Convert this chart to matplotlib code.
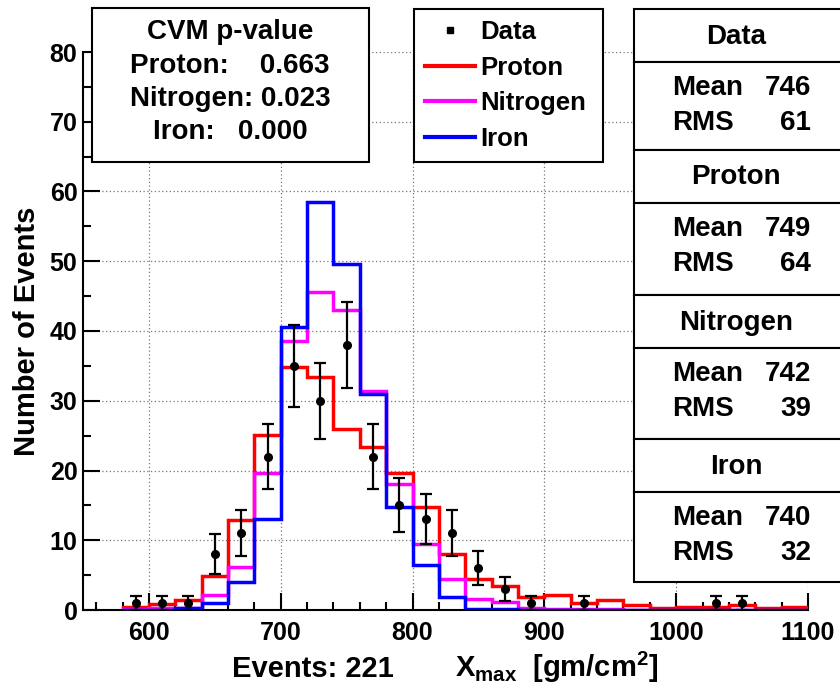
import numpy as np
import matplotlib
matplotlib.use("Agg")
import matplotlib.pyplot as plt
from matplotlib.patches import Rectangle
from matplotlib.lines import Line2D
from matplotlib.ticker import MultipleLocator

# ---------------- data ----------------
bin_edges = np.arange(580, 1101, 20)
data_counts = [1, 1, 1, 8, 11, 22, 35, 30, 38, 22, 15, 13, 11, 6, 3, 1, 0, 1, 0, 0, 0, 0, 1, 1, 0, 0]
proton = [0.5, 0.8, 1.5, 4.9, 12.9, 25.1, 34.8, 33.4, 26.0, 23.3, 19.6, 14.8, 8.1, 4.4, 3.4, 1.9,
          2.1, 1.0, 1.4, 0.7, 0.25, 0.5, 0.5, 0.7, 0.25, 0.4]
nitrogen = [0.1, 0.3, 0.3, 2.1, 6.1, 19.6, 38.6, 45.6, 43.0, 31.4, 18.0, 9.4, 4.4, 1.6, 1.2, 0.3,
            0.2, 0.1, 0.1, 0.05, 0.05, 0.05, 0.05, 0.05, 0.05, 0.05]
iron = [0.0, 0.05, 0.3, 1.0, 4.0, 13.0, 40.6, 58.5, 49.6, 30.9, 14.8, 6.5, 1.8, 0.2, 0.1, 0.0,
        0.0, 0.0, 0.0, 0.0, 0.0, 0.0, 0.0, 0.0, 0.0, 0.0]
series_names = ["Proton", "Nitrogen", "Iron"]
series_colors = ["#ff0000", "#ff00ff", "#0000ff"]
cvm_title = "CVM p-value"
cvm_lines = ["Proton:    0.663", "Nitrogen: 0.023", "Iron:   0.000"]
stat_names = ["Data", "Proton", "Nitrogen", "Iron"]
stat_means = [746, 749, 742, 740]
stat_rms = [61, 64, 39, 32]
n_events = 221

# ---------------- style ----------------
plt.rcParams["font.family"] = ["Liberation Sans", "DejaVu Sans"]
plt.rcParams["font.weight"] = "bold"
plt.rcParams["mathtext.fontset"] = "custom"
plt.rcParams["mathtext.rm"] = "Liberation Sans:bold"
plt.rcParams["mathtext.bf"] = "Liberation Sans:bold"
plt.rcParams["mathtext.it"] = "Liberation Sans:bold"
plt.rcParams["mathtext.default"] = "bf"
FS_TICK = 18
FS_BOX = 20
FS_LEG = 18.5
FS_TITLE = 21

W, H = 840, 693
def fx(x):
    return x / W
def fy(y):
    return 1 - y / H

fig = plt.figure(figsize=(W / 100, H / 100), dpi=100)
ax = fig.add_axes([fx(83), fy(610), fx(808) - fx(83), fy(52) - fy(610)])

ax.set_xlim(550, 1100)
ax.set_ylim(0, 80)
ax.xaxis.set_major_locator(MultipleLocator(100))
ax.xaxis.set_minor_locator(MultipleLocator(20))
ax.yaxis.set_major_locator(MultipleLocator(10))
ax.yaxis.set_minor_locator(MultipleLocator(5))
ax.tick_params(which="both", direction="in", width=1.5, top=False, right=False,
               labelsize=FS_TICK)
ax.tick_params(which="major", length=12)
ax.tick_params(which="minor", length=6)
ax.tick_params(axis="y", pad=4)
ax.tick_params(axis="x", pad=8)
for lab in ax.get_xticklabels() + ax.get_yticklabels():
    lab.set_fontweight("bold")
for s in ["top", "right"]:
    ax.spines[s].set_visible(False)
for s in ["left", "bottom"]:
    ax.spines[s].set_linewidth(1.5)
ax.grid(which="major", linestyle=(0, (1, 2)), color="#777777", linewidth=0.9)
ax.set_axisbelow(True)

# histograms
for vals, c in zip([proton, nitrogen, iron], series_colors):
    ax.stairs(vals, bin_edges, baseline=0, color=c, linewidth=2.5, fill=False)

centers = 0.5 * (bin_edges[:-1] + bin_edges[1:])
dc = np.array(data_counts, dtype=float)
m = dc > 0
ax.errorbar(centers[m], dc[m], yerr=np.sqrt(dc[m]), fmt="o", color="black",
            ms=5.5, elinewidth=1.6, capsize=4.5, capthick=1.6, zorder=5)

# axis labels
ax.set_ylabel("Number of Events", fontsize=FS_TITLE, fontweight="bold")
ax.yaxis.set_label_coords((41 - 83) / 725, 0.5)
ax.set_xlabel(r"$X_{max}$  [gm/cm$^{2}$]", fontsize=FS_TITLE, fontweight="bold",
              ha="left", va="baseline")
ax.xaxis.set_label_coords((455 - 83) / 725, (610 - 677) / 558)
fig.text(fx(232), fy(677), f"Events: {n_events}", fontsize=FS_TITLE, fontweight="bold",
         ha="left", va="baseline")

# legend
handles = [Line2D([], [], marker="s", ls="none", color="black", ms=4)]
handles += [Line2D([], [], color=c, lw=3) for c in series_colors]
leg = ax.legend(handles, ["Data"] + series_names, loc="upper left",
                bbox_to_anchor=(fx(414), fy(162), fx(603) - fx(414), fy(9) - fy(162)),
                bbox_transform=fig.transFigure, mode="expand",
                fontsize=FS_LEG, frameon=True, fancybox=False, edgecolor="black",
                framealpha=1, borderpad=0.42, handlelength=1.95, handletextpad=0.2,
                labelspacing=0.46, borderaxespad=0)
leg.get_frame().set_linewidth(1.5)
for t in leg.get_texts():
    t.set_fontweight("bold")

# CVM box
fig.add_artist(Rectangle((fx(92), fy(162)), fx(369) - fx(92), fy(8) - fy(162),
                         transform=fig.transFigure, fc="white", ec="black", lw=1.5, zorder=6))
cvm_y = [32, 66, 99, 132]
for txt, yy in zip([cvm_title] + cvm_lines, cvm_y):
    fig.text(fx(230), fy(yy), txt, fontsize=FS_BOX, fontweight="bold", ha="center",
             va="center", zorder=7)

# stats boxes
tops = [9, 150, 295, 439]
hbots = [62, 203, 348, 492]
bbots = [150, 295, 439, 582]
for name, mean, rms, t, hb, bb in zip(stat_names, stat_means, stat_rms, tops, hbots, bbots):
    fig.add_artist(Rectangle((fx(634), fy(hb)), fx(860) - fx(634), fy(t) - fy(hb),
                             transform=fig.transFigure, fc="white", ec="black", lw=1.5, zorder=6))
    fig.add_artist(Rectangle((fx(634), fy(bb)), fx(860) - fx(634), fy(hb) - fy(bb),
                             transform=fig.transFigure, fc="white", ec="black", lw=1.5, zorder=6))
    fig.text(fx(736), fy((t + hb) / 2 + 1), name, fontsize=FS_BOX, fontweight="bold",
             ha="center", va="center", zorder=7)
    fig.text(fx(672), fy(hb + 26), "Mean", fontsize=FS_BOX, fontweight="bold",
             ha="left", va="center", zorder=7)
    fig.text(fx(811), fy(hb + 26), f"{mean}", fontsize=FS_BOX, fontweight="bold",
             ha="right", va="center", zorder=7)
    fig.text(fx(672), fy(hb + 61), "RMS", fontsize=FS_BOX, fontweight="bold",
             ha="left", va="center", zorder=7)
    fig.text(fx(811), fy(hb + 61), f"{rms}", fontsize=FS_BOX, fontweight="bold",
             ha="right", va="center", zorder=7)

fig.savefig("out.png", dpi=100, facecolor="white")
